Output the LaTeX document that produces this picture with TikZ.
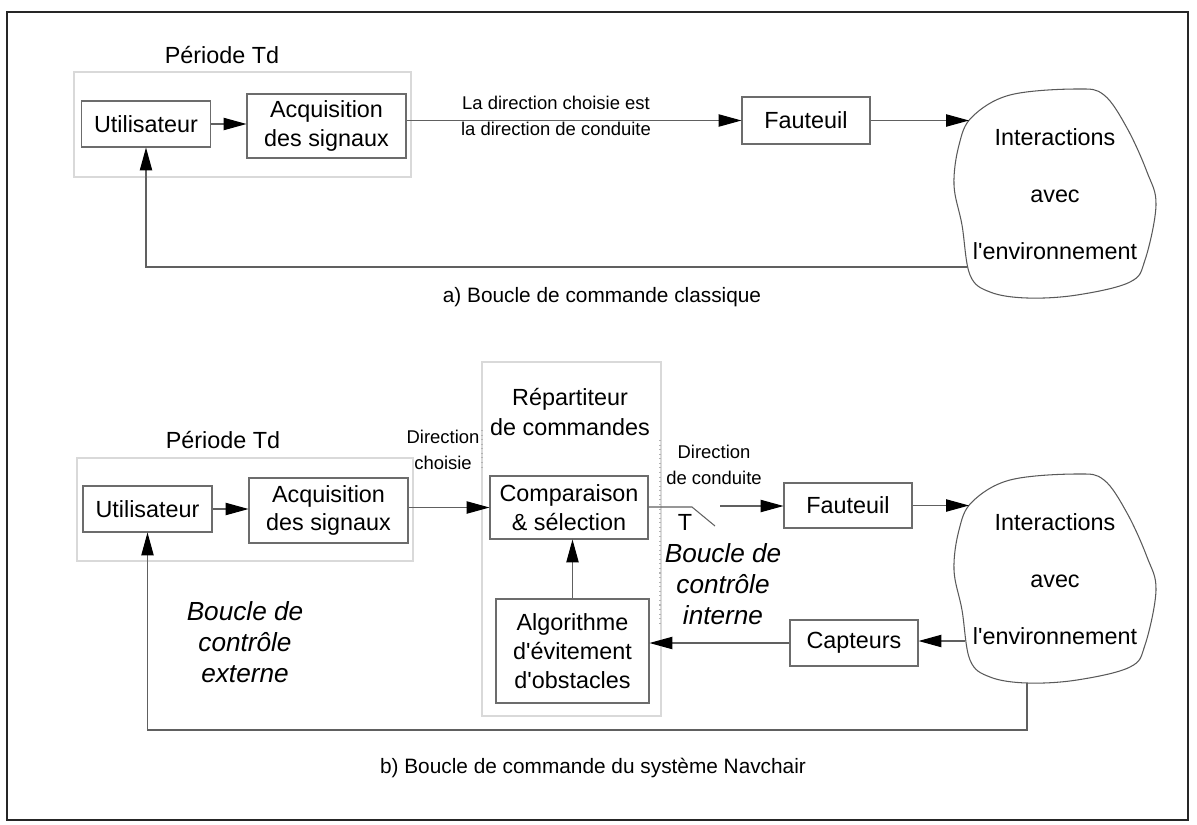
\documentclass[tikz,border=0pt]{standalone}
\usepackage{fontspec}
\setmainfont{Liberation Sans}
\usepackage{tikz}
\usetikzlibrary{calc}
\usetikzlibrary{positioning}
\usetikzlibrary{arrows.meta}
\tikzstyle{blocknode} = [draw=gray!85!black, line width=0.6pt, align=center, inner sep=0pt, font=\fontsize{13.3}{16.4}\selectfont]
\tikzstyle{groupbox} = [draw=gray!30, line width=0.6pt]
\tikzstyle{wire} = [draw=gray!75!black, line width=0.6pt]
\tikzstyle{flow} = [wire, -{Triangle[length=13pt, width=7pt, color=black]}]
\tikzstyle{grouptext} = [align=center, font=\fontsize{13.3}{17}\selectfont]
\tikzstyle{smalltext} = [align=center, font=\fontsize{10.5}{14.4}\selectfont]
\tikzstyle{looptext} = [align=center, font=\fontsize{14.9}{17.6}\selectfont\itshape]
\tikzstyle{captiontext} = [font=\fontsize{11.85}{14}\selectfont]
\tikzstyle{envtext} = [align=center, font=\fontsize{13.3}{32.6}\selectfont]
\tikzset{envcloud/.pic={
    \draw[draw=gray!70!black, line width=0.6pt] plot[smooth cycle, tension=0.6] coordinates {
        (-83,-77) (-45,-99) (22,-105) (49,-99) (72,-66) (92,-22) (101,11) (90,66)
        (75,88) (22,101) (-28,104) (-65,98) (-85,81) (-93,31) (-101,-9) (-96,-49)};
}}

\begin{document}
\begin{tikzpicture}[x=0.02cm, y=-0.02cm]
    \useasboundingbox (0,0) rectangle (1197,825);
    \draw[line width=1.1pt, draw=black!85] (7,12) rectangle (1188,820);

    % a) boucle classique
    \draw[groupbox] (74,72) rectangle (411,177);
    \node[grouptext] (per_a) at (222,55) {Période Td};
    \node[blocknode, minimum width=2.58cm, minimum height=0.92cm] (user_a) at (146,124) {Utilisateur};
    \node[blocknode, minimum width=3.18cm, minimum height=1.28cm] (acq_a) at (326.5,126) {Acquisition\\des signaux};
    \node[blocknode, minimum width=2.56cm, minimum height=0.94cm] (faut_a) at (806,120.5) {Fauteuil};
    \node[envtext] (env_a) at (1055,194) {Interactions\\avec\\l\textquotesingle environnement};
    \pic at (env_a) {envcloud};
    \coordinate (env_a_in) at ($(env_a)+(-86,-76)$);
    \coordinate (env_a_out) at ($(env_a)+(-88,73)$);
    \node[smalltext] (dir_a) at (556,116) {La direction choisie est\\la direction de conduite};

    \draw[flow] (user_a.east) -- (user_a.east -| acq_a.west);
    \draw[flow] (acq_a.east |- faut_a) -- (faut_a.west);
    \draw[flow] (faut_a.east) -- (faut_a.east -| env_a_in);
    \draw[flow] (env_a_out) -| (user_a.south);
    \node[captiontext] (cap_a) at (602,297) {a) Boucle de commande classique};

    % b) boucle Navchair
    \draw[groupbox] (77,458) rectangle (413,561);
    \draw[groupbox] (482,362) rectangle (661,716);
    \draw[wire, draw=gray!60, dotted] (482,430) -- (482,470);
    \draw[wire, draw=gray!60, dotted] (660,440) -- (660,625);
    \node[grouptext] (per_b) at ($(per_a)+(1,385)$) {Période Td};
    \node[grouptext] (rep_b) at (570,412) {Répartiteur\\de commandes};
    \node[blocknode, minimum width=2.58cm, minimum height=0.92cm] (user_b) at ($(user_a)+(1.5,385)$) {Utilisateur};
    \node[blocknode, minimum width=3.18cm, minimum height=1.30cm] (acq_b) at ($(acq_a)+(2,384.5)$) {Acquisition\\des signaux};
    \node[blocknode, minimum width=3.16cm, minimum height=1.26cm] (comp_b) at (569,507.5) {Comparaison\\\& sélection};
    \node[blocknode, minimum width=3.06cm, minimum height=2.08cm, font=\fontsize{13.3}{16.6}\selectfont] (algo_b) at (572.5,651) {Algorithme\\d\textquotesingle évitement\\d\textquotesingle obstacles};
    \node[blocknode, minimum width=2.56cm, minimum height=0.90cm] (faut_b) at (848,505.5) {Fauteuil};
    \node[blocknode, minimum width=2.56cm, minimum height=0.92cm] (capt_b) at (854,643) {Capteurs};
    \node[envtext] (env_b) at ($(env_a)+(0,385)$) {Interactions\\avec\\l\textquotesingle environnement};
    \pic at (env_b) {envcloud};
    \coordinate (env_b_in) at ($(env_b)+(-86,-76)$);
    \coordinate (env_b_out) at ($(env_b)+(-90,62)$);
    \coordinate (env_b_bot) at ($(env_b)+(-28,104)$);
    \coordinate (back_b) at (1027,730);
    \coordinate (sw_a) at (692,507);
    \coordinate (sw_b) at (715,526);
    \coordinate (sw_c) at (720,506);

    \node[smalltext] (dir_ch) at (443,450) {Direction\\choisie};
    \node[smalltext] (dir_co) at (714,465) {Direction\\de conduite};
    \node[grouptext] (t_lbl) at (685,522) {T};
    \node[looptext] (loop_int) at (723,584) {Boucle de\\contrôle\\interne};
    \node[looptext] (loop_ext) at (245,642) {Boucle de\\contrôle\\externe};

    \draw[flow] (user_b.east) -- (user_b.east -| acq_b.west);
    \draw[flow] (acq_b.east |- comp_b) -- (comp_b.west);
    \draw[wire] (comp_b.east |- sw_a) -- (sw_a) -- (sw_b);
    \draw[flow] (sw_c) -- (sw_c -| faut_b.west);
    \draw[flow] (faut_b.east) -- (faut_b.east -| env_b_in);
    \draw[flow] (env_b_out) -- (env_b_out -| capt_b.east);
    \draw[flow] (capt_b.west) -- (capt_b.west -| algo_b.east);
    \draw[flow] (algo_b.north) -- (algo_b.north |- comp_b.south);
    \draw[flow] (env_b_bot) -- (back_b) -| (user_b.south);
    \node[captiontext] (cap_b) at (593,768) {b) Boucle de commande du système Navchair};
\end{tikzpicture}
\end{document}
